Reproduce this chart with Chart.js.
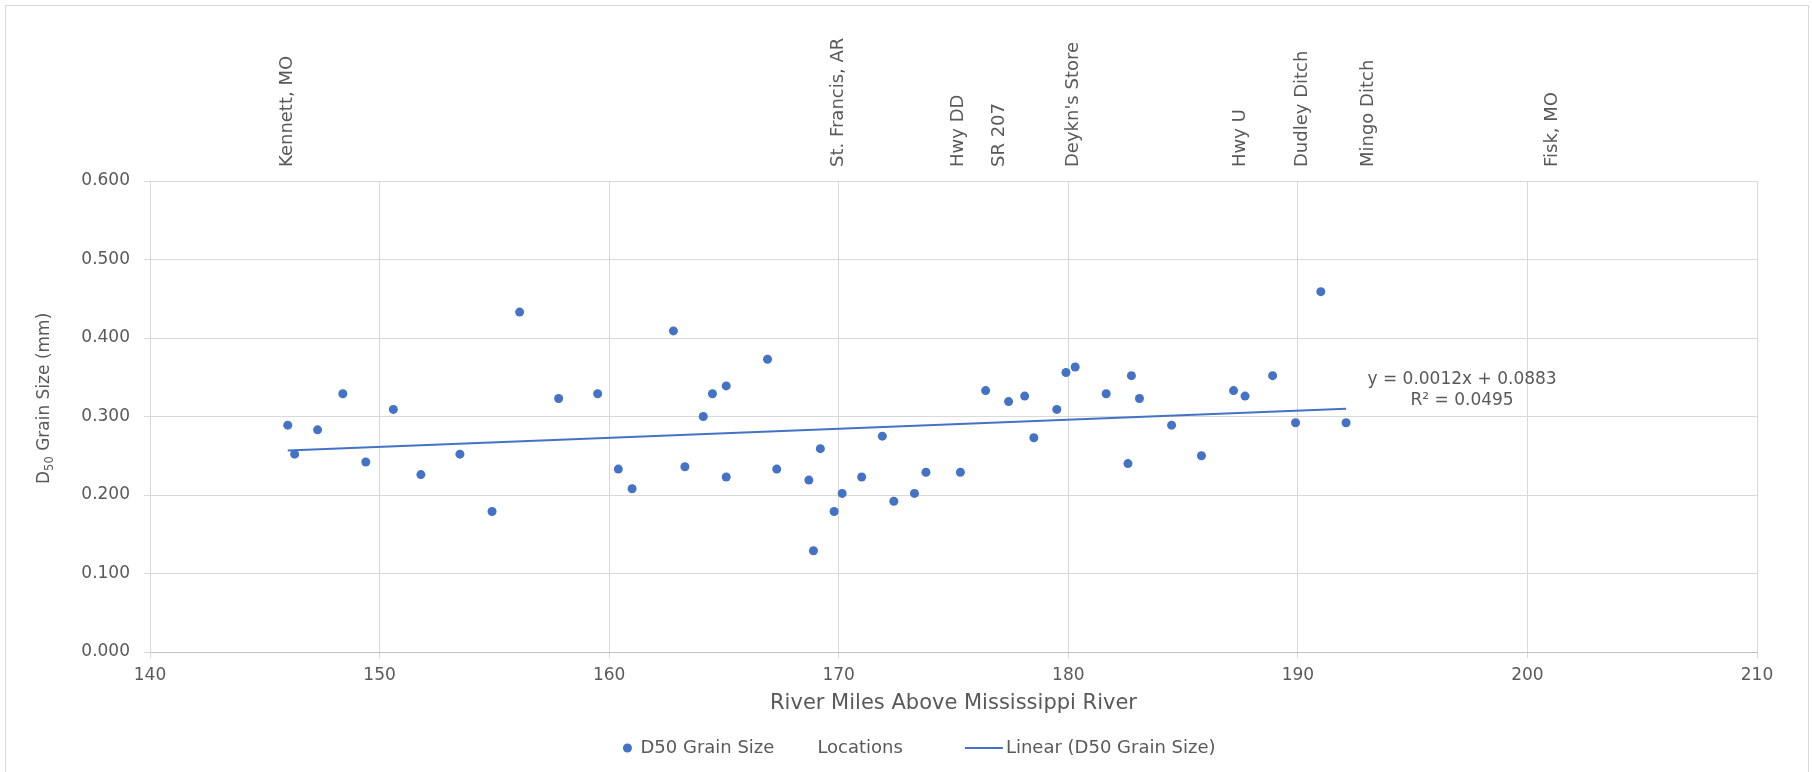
<!DOCTYPE html>
<html>
<head>
<meta charset="utf-8">
<script src="https://cdn.jsdelivr.net/npm/chart.js@4.4.1/dist/chart.umd.min.js"></script>
<style>
  html, body { margin: 0; padding: 0; background: #ffffff; }
  canvas { display: block; }
</style>
</head>
<body>
<canvas id="chart" width="1812" height="772"></canvas>
<script>
// Sample sites: river mile above the Mississippi and median (D50) grain size in mm
const riverMile = [
  146.0, 146.3, 147.3, 148.4, 149.4, 150.6, 151.8, 153.5, 154.9, 156.1,
  157.8, 159.5, 160.4, 161.0, 162.8, 163.3, 164.1, 164.5, 165.1, 165.1,
  166.9, 167.3, 168.7, 168.9, 169.2, 169.8, 170.15, 171.0, 171.9, 172.4,
  173.3, 173.8, 175.3, 176.4, 177.4, 178.1, 178.5, 179.5, 179.9, 180.3,
  181.65, 182.6, 182.75, 183.1, 184.5, 185.8, 187.2, 187.7, 188.9, 189.9,
  191.0, 192.1
];
const d50 = [
  0.289, 0.252, 0.283, 0.329, 0.242, 0.309, 0.226, 0.252, 0.179, 0.433,
  0.323, 0.329, 0.233, 0.208, 0.409, 0.236, 0.300, 0.329, 0.339, 0.223,
  0.373, 0.233, 0.219, 0.129, 0.259, 0.179, 0.202, 0.223, 0.275, 0.192,
  0.202, 0.229, 0.229, 0.333, 0.319, 0.326, 0.273, 0.309, 0.356, 0.363,
  0.329, 0.240, 0.352, 0.323, 0.289, 0.250, 0.333, 0.326, 0.352, 0.292,
  0.459, 0.292
];

// Reference locations along the river
const locationNames = [
  "Kennett, MO", "St. Francis, AR", "Hwy DD", "SR 207", "Deykn's Store",
  "Hwy U", "Dudley Ditch", "Mingo Ditch", "Fisk, MO"
];
const locationMiles = [146.0, 170.0, 175.2, 177.0, 180.2, 187.5, 190.2, 193.05, 201.1];

// Axis ranges
const xAxisMin = 140, xAxisMax = 210, xAxisStep = 10;
const yAxisMin = 0, yAxisMax = 0.6, yAxisStep = 0.1;

// Reported trendline equation and fit quality
const trendEquationLines = ['y = 0.0012x + 0.0883', 'R\u00B2 = 0.0495'];

const FONT = "'DejaVu Sans', sans-serif";
const TEXT = '#595959';
const GRID = '#d9d9d9';
const BLUE = '#4472c4';

const points = riverMile.map((m, i) => ({ x: m, y: d50[i] }));

// Ordinary least-squares fit of D50 against river mile
function linearFit(xs, ys) {
  const n = xs.length;
  const mx = xs.reduce((a, b) => a + b, 0) / n;
  const my = ys.reduce((a, b) => a + b, 0) / n;
  let sxy = 0, sxx = 0;
  for (let i = 0; i < n; i++) {
    sxy += (xs[i] - mx) * (ys[i] - my);
    sxx += (xs[i] - mx) * (xs[i] - mx);
  }
  const slope = sxy / sxx;
  return { slope, intercept: my - slope * mx };
}
const fit = linearFit(riverMile, d50);
const trendFrom = Math.min(...riverMile);
const trendTo = Math.max(...riverMile);
const trendPoints = [trendFrom, trendTo].map(m => ({ x: m, y: fit.slope * m + fit.intercept }));

const framePlugin = {
  id: 'frame',
  beforeDraw(chart) {
    const { ctx, width, height } = chart;
    ctx.save();
    ctx.fillStyle = '#ffffff';
    ctx.fillRect(0, 0, width, height);
    ctx.strokeStyle = GRID;
    ctx.lineWidth = 1;
    ctx.strokeRect(5.5, 5.5, width - 9, height - 5);
    ctx.restore();
  }
};

const locationPlugin = {
  id: 'locations',
  afterDraw(chart) {
    const { ctx, chartArea } = chart;
    const xs = chart.scales.x;
    ctx.save();
    ctx.font = '18px ' + FONT;
    ctx.fillStyle = TEXT;
    ctx.textAlign = 'left';
    ctx.textBaseline = 'middle';
    locationNames.forEach((name, i) => {
      const px = xs.getPixelForValue(locationMiles[i]);
      ctx.save();
      ctx.translate(px, chartArea.top - 14);
      ctx.rotate(-Math.PI / 2);
      ctx.fillText(name, 0, 0);
      ctx.restore();
    });
    ctx.restore();
  }
};

const yTitlePlugin = {
  id: 'yTitle',
  afterDraw(chart) {
    const { ctx } = chart;
    const main = '17px ' + FONT;
    const sub = '11.5px ' + FONT;
    ctx.save();
    ctx.fillStyle = TEXT;
    ctx.textBaseline = 'alphabetic';
    ctx.textAlign = 'left';
    ctx.translate(49, 484);
    ctx.rotate(-Math.PI / 2);
    let x = 0;
    ctx.font = main;
    ctx.fillText('D', x, 0);
    x += ctx.measureText('D').width;
    ctx.font = sub;
    ctx.fillText('50', x, 4);
    x += ctx.measureText('50').width;
    ctx.font = main;
    ctx.fillText(' Grain Size (mm)', x, 0);
    ctx.restore();
  }
};

const trendLabelPlugin = {
  id: 'trendLabel',
  afterDraw(chart) {
    const { ctx } = chart;
    const ex = chart.scales.x.getPixelForValue(trendTo);
    const ey = chart.scales.y.getPixelForValue(fit.slope * trendTo + fit.intercept);
    ctx.save();
    ctx.font = '17px ' + FONT;
    ctx.fillStyle = TEXT;
    ctx.textAlign = 'center';
    ctx.textBaseline = 'middle';
    ctx.fillText(trendEquationLines[0], ex + 116, ey - 29);
    ctx.fillText(trendEquationLines[1], ex + 116, ey - 8);
    ctx.restore();
  }
};

const legendPlugin = {
  id: 'bottomLegend',
  afterDraw(chart) {
    const { ctx, width } = chart;
    const labels = ['D50 Grain Size', 'Locations', 'Linear (D50 Grain Size)'];
    ctx.save();
    ctx.font = '18px ' + FONT;
    ctx.fillStyle = TEXT;
    ctx.textBaseline = 'middle';
    ctx.textAlign = 'left';
    const w = labels.map(t => ctx.measureText(t).width);
    const total = 14 + 6 + w[0] + 43 + w[1] + 62 + 38 + 3 + w[2];
    const y = 748;
    let x = width / 2 + 12 - total / 2;
    ctx.beginPath();
    ctx.arc(x + 7, y, 4.5, 0, Math.PI * 2);
    ctx.fillStyle = BLUE;
    ctx.fill();
    ctx.fillStyle = TEXT;
    ctx.fillText(labels[0], x + 20, y);
    x += 20 + w[0] + 43;
    ctx.fillText(labels[1], x, y);
    x += w[1] + 62;
    ctx.strokeStyle = BLUE;
    ctx.lineWidth = 2;
    ctx.beginPath();
    ctx.moveTo(x, y);
    ctx.lineTo(x + 38, y);
    ctx.stroke();
    ctx.fillText(labels[2], x + 41, y);
    ctx.restore();
  }
};

new Chart(document.getElementById('chart'), {
  type: 'scatter',
  data: {
    datasets: [
      {
        label: 'Linear (D50 Grain Size)',
        type: 'line',
        data: trendPoints,
        borderColor: BLUE,
        borderWidth: 2,
        pointRadius: 0,
        fill: false,
        order: 0
      },
      {
        label: 'D50 Grain Size',
        data: points,
        backgroundColor: BLUE,
        borderWidth: 0,
        pointRadius: 4.5,
        order: 1
      }
    ]
  },
  options: {
    responsive: false,
    animation: false,
    layout: { padding: { left: 0, right: 55, top: 181, bottom: 50 } },
    plugins: {
      legend: { display: false },
      tooltip: { enabled: false },
      title: { display: false }
    },
    scales: {
      x: {
        type: 'linear',
        min: xAxisMin,
        max: xAxisMax,
        ticks: { stepSize: xAxisStep, color: TEXT, font: { family: FONT, size: 17 }, padding: 7, maxRotation: 0 },
        grid: { color: GRID, lineWidth: 1, tickLength: 6 },
        border: { color: '#bfbfbf', width: 1 },
        title: {
          display: true,
          text: 'River Miles Above Mississippi River',
          color: TEXT,
          font: { family: FONT, size: 21 },
          padding: { top: 0, bottom: 6 }
        },
        afterFit(s) { s.height = 70; }
      },
      y: {
        min: yAxisMin,
        max: yAxisMax,
        ticks: {
          stepSize: yAxisStep,
          color: TEXT,
          font: { family: FONT, size: 17 },
          padding: 14,
          callback: v => Number(v).toFixed(3)
        },
        grid: { color: GRID, lineWidth: 1, tickLength: 6 },
        border: { color: GRID, width: 1 },
        afterFit(s) { s.width = 150; }
      }
    }
  },
  plugins: [framePlugin, locationPlugin, yTitlePlugin, trendLabelPlugin, legendPlugin]
});
</script>
</body>
</html>
